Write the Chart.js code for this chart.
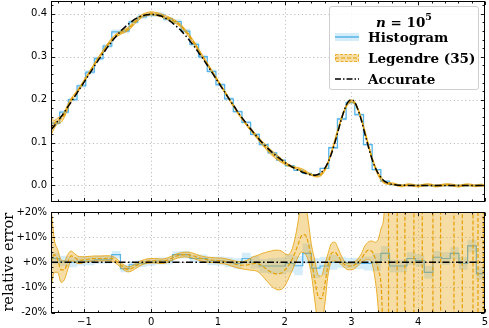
<!DOCTYPE html>
<html><head><meta charset="utf-8">
<script src="https://cdn.jsdelivr.net/npm/chart.js@4.4.1/dist/chart.umd.min.js"></script>
<style>
html,body{margin:0;padding:0;background:#fff;}
#wrap{position:relative;width:489px;height:328px;overflow:hidden;background:#fff;}
#c1{position:absolute;left:0;top:0;}
#c2{position:absolute;left:0;top:206px;}
#legend{position:absolute;left:329px;top:6px;width:150px;height:84px;box-sizing:border-box;border:1px solid #cfcfcf;border-radius:3px;background:rgba(255,255,255,0.85);font-family:'DejaVu Serif',serif;font-weight:bold;font-size:13.5px;color:#000;}
#legend .ttl{position:absolute;left:0;width:100%;top:2px;text-align:center;line-height:18px;}
#legend .ttl sup{font-size:9.5px;position:relative;top:-1px;}
#legend .row{position:absolute;left:5px;height:18px;line-height:18px;white-space:nowrap;}
#legend .row svg{position:absolute;left:0;top:4px;}
#legend .row span{position:absolute;left:33px;top:0;}
</style></head>
<body>
<div id="wrap">
<canvas id="c1" width="489" height="205"></canvas>
<canvas id="c2" width="489" height="122"></canvas>
<div id="legend">
  <div class="ttl"><i>n</i> = 10<sup>5</sup></div>
  <div class="row" style="top:21px"><svg width="24" height="10"><rect x="0" y="1" width="24" height="8" fill="rgba(86,180,233,0.25)"/><line x1="0" y1="5" x2="24" y2="5" stroke="#56B4E9" stroke-width="1.5"/></svg><span>Histogram</span></div>
  <div class="row" style="top:42px"><svg width="24" height="10"><rect x="0.5" y="1.5" width="23" height="7" fill="rgba(230,159,0,0.35)" stroke="#E69F00" stroke-width="0.8" stroke-dasharray="3 1.5"/><line x1="0" y1="5" x2="24" y2="5" stroke="#E69F00" stroke-width="1.2" stroke-dasharray="4 2"/></svg><span>Legendre (35)</span></div>
  <div class="row" style="top:63px"><svg width="24" height="10"><line x1="0" y1="5" x2="24" y2="5" stroke="#000" stroke-width="1.5" stroke-dasharray="6 2 1.5 2"/></svg><span>Accurate</span></div>
</div>
</div>
<script>
// ---------------- DATA ----------------
const xs = [-1.5,-1.45,-1.4,-1.35,-1.3,-1.25,-1.2,-1.15,-1.1,-1.05,-1,-0.95,-0.9,-0.85,-0.8,-0.75,-0.7,-0.65,-0.6,-0.55,-0.5,-0.45,-0.4,-0.35,-0.3,-0.25,-0.2,-0.15,-0.1,-0.05,0,0.05,0.1,0.15,0.2,0.25,0.3,0.35,0.4,0.45,0.5,0.55,0.6,0.65,0.7,0.75,0.8,0.85,0.9,0.95,1,1.05,1.1,1.15,1.2,1.25,1.3,1.35,1.4,1.45,1.5,1.55,1.6,1.65,1.7,1.75,1.8,1.85,1.9,1.95,2,2.05,2.1,2.15,2.2,2.25,2.3,2.35,2.4,2.45,2.5,2.55,2.6,2.65,2.7,2.75,2.8,2.85,2.9,2.95,3,3.05,3.1,3.15,3.2,3.25,3.3,3.35,3.4,3.45,3.5,3.55,3.6,3.65,3.7,3.75,3.8,3.85,3.9,3.95,4,4.05,4.1,4.15,4.2,4.25,4.3,4.35,4.4,4.45,4.5,4.55,4.6,4.65,4.7,4.75,4.8,4.85,4.9,4.95,5];

// accurate density
const accurate = [0.130,0.139,0.150,0.160,0.171,0.183,0.194,0.206,0.218,0.230,
 0.242,0.254,0.266,0.278,0.290,0.301,0.312,0.323,0.333,0.343,
 0.352,0.361,0.368,0.375,0.381,0.387,0.391,0.395,0.397,0.398,
 0.399,0.398,0.397,0.395,0.391,0.387,0.381,0.375,0.368,0.361,
 0.352,0.343,0.333,0.323,0.312,0.301,0.290,0.278,0.266,0.254,
 0.242,0.230,0.218,0.206,0.194,0.183,0.171,0.160,0.150,0.139,
 0.130,0.120,0.111,0.102,0.094,0.086,0.079,0.072,0.066,0.060,
 0.054,0.049,0.044,0.040,0.036,0.032,0.029,0.026,0.025,0.024,
 0.026,0.031,0.040,0.054,0.074,0.099,0.127,0.155,0.179,0.195,
 0.200,0.194,0.176,0.151,0.121,0.092,0.065,0.044,0.028,0.017,
 0.0095,0.0052,0.0028,0.0015,0.0008,0.0005,0.0003,0.0002,0.0002,0.0001,
 0.0001,0,0,0,0,0,0,0,0,0,
 0,0,0,0,0,0,0,0,0,0,
 0];

// Legendre (35) relative error [%] (x = -1.5 ... 3.5)
const legRel = [0,3,1,-3,-3,0,2.5,2,1,0.8,
 1,1.2,1.4,1.5,1.5,1.5,1.5,1.6,1.5,1.0,
 0,-1.2,-2.2,-2.8,-2.6,-1.8,-1.0,-0.3,0.2,0.5,
 0.6,0.6,0.5,0.4,0.5,0.9,1.5,2.1,2.6,2.9,
 3.0,3.0,2.8,2.4,1.9,1.5,1.2,1.0,0.9,0.8,
 0.7,0.6,0.4,0.1,-0.3,-0.7,-1.0,-1.2,-1.2,-1.0,
 -0.7,-0.5,-0.6,-1.2,-2.2,-3.2,-4.0,-4.5,-4.6,-4.3,
 -3.2,-1.5,0.5,3.5,7,10.5,11,8,1,-7,
 -13.5,-14.5,-9,-1,3.5,4,2.5,0.5,-1,-1.5,
 -1.5,-1,0,1.5,3.5,4.8,4.5,2,-3,-12,
 -60];
// Legendre band, relative [%] lower / upper (x = -1.5 ... 5)
const legLo = [-10,-4,-4,-8,-7,-3,0.5,0.3,-0.5,-0.5,
 0,0.2,0.4,0.5,0.5,0.5,0.5,0.6,0.5,0,
 -1,-2.2,-3.2,-3.8,-3.6,-2.8,-2.0,-1.2,-0.7,-0.4,
 -0.3,-0.3,-0.4,-0.5,-0.4,0,0.6,1.2,1.7,2.0,
 2.1,2.0,1.8,1.4,0.9,0.5,0.2,0,-0.1,-0.2,
 -0.3,-0.5,-0.7,-1.0,-1.5,-1.9,-2.3,-2.6,-2.8,-3.0,
 -3.2,-3.3,-3.8,-5.0,-6.5,-8.0,-9.5,-10.5,-11.0,-10.8,
 -9.5,-7.0,-4.0,-1.0,2,4,3.5,1,-5,-15,
 -24,-25,-17,-5,0,0.5,0,-1,-2.2,-3,
 -3,-2.5,-1.2,0,0.8,1,0,-6,-18,-40,
 -80,-300,-1000,-1000,-1000,-1000,-1000,-1000,-1000,-1000,
 -1000,-1000,-1000,-1000,-1000,-1000,-1000,-1000,-1000,-1000,
 -1000,-1000,-1000,-1000,-1000,-1000,-1000,-1000,-1000,-1000,
 -1000];
const legHi = [22,9,5,1,0.5,3,4.5,3.5,2.5,2.2,
 2.2,2.3,2.4,2.5,2.5,2.5,2.6,2.6,2.5,2.0,
 1,-0.2,-1.2,-1.8,-1.6,-0.8,0,0.6,1.1,1.4,
 1.5,1.5,1.4,1.3,1.4,1.8,2.4,3.0,3.5,3.8,
 4.0,4.0,3.8,3.4,2.9,2.5,2.2,2.0,1.9,1.8,
 1.7,1.7,1.5,1.2,0.9,0.5,0.3,0.2,0.4,1.0,
 1.8,2.4,2.8,3.4,3.8,4.2,4.5,4.8,4.8,4.5,
 3.5,3.0,4.5,9,16,24,24,17,7,1,
 -5,-5.5,-1,3.5,7.5,8,5.5,2.5,0.2,-0.3,
 -0.2,0.3,1.5,3.5,6.5,8,8.5,8,9,14,
 26,200,1000,1000,1000,1000,1000,1000,1000,1000,
 1000,1000,1000,1000,1000,1000,1000,1000,1000,1000,
 1000,1000,1000,1000,1000,1000,1000,1000,1000,1000,
 1000];
// Legendre estimate in the far tail (density), x = 3.5 ... 5
const legTail = [0.0065,0.0047,0.0043,0.0027,0.0003,-0.0010,0.0003,0.0017,0.0012,-0.0004,
 -0.0014,-0.0002,0.0013,0.0019,0.0007,-0.0011,-0.0008,0.0005,0.0016,0.0019,
 0.0011,-0.0003,-0.0015,-0.0003,0.0012,0.0016,0.0005,-0.0009,0.0001,0.0010,
 -0.0011];
const legTailW = 0.0022;
// where the Legendre relative error sweeps through the whole window (x)
const legCross = [3.555,3.685,3.8,3.935,4.06,4.22,4.335,4.535,4.66,4.82,4.895,4.975];

// Histogram
const histEdges = [-1.5,-1.37,-1.24,-1.11,-0.98,-0.85,-0.72,-0.59,-0.46,-0.33,-0.2,-0.07,0.06,0.19,0.32,0.45,0.58,0.71,0.84,0.97,1.1,1.23,1.36,1.49,1.62,1.75,1.88,2.01,2.14,2.27,2.4,2.53,2.66,2.79,2.92,3.05,3.18,3.31,3.44,3.57,3.7,3.83,3.96,4.09,4.22,4.35,4.48,4.61,4.74,4.87,5];
const histVals = [0.145,0.171,0.200,0.232,0.264,0.296,0.325,0.358,0.360,0.381,
 0.393,0.398,0.398,0.388,0.382,0.360,0.329,0.300,0.266,0.235,
 0.202,0.172,0.147,0.119,0.095,0.076,0.059,0.046,0.035,0.028,
 0.024,0.040,0.088,0.155,0.193,0.165,0.095,0.037,0.010,0.002,
 0.0004,0.0002,0.0001,0,0,0,0,0,0,0];
const histRel = [1.5,0.5,0,0.5,0.5,1,1,3,-2.5,-1,
 -0.5,0,0.5,0.5,3,3,1.5,1.5,0.5,0.5,
 0,-0.5,1.5,0,-1.5,-1.5,-1.5,-0.5,-1.4,3.5,
 -2.3,-1.5,0,0,-0.3,-0.5,-0.5,0,3.5,-1.5,
 -1.5,1.5,0.7,-4,2,1.5,3.5,-0.5,6.5,-4.5];
const histErr = [2.3,2.1,2.0,1.8,1.7,1.6,1.5,1.5,1.5,1.4,
 1.4,1.4,1.4,1.4,1.4,1.5,1.5,1.6,1.7,1.8,
 2.0,2.1,2.3,2.5,2.8,3.2,3.4,3.6,3.8,4.0,
 4.0,3.6,3.0,2.2,2.0,2.2,2.8,3.6,3,2.5,
 2.5,2.5,2.5,2.5,2.5,2.5,2.5,2.5,2.5,2.5];

// tick steps
const xTickStep = 1, topYTickStep = 0.1, relYTickStep = 10;

// ---------------- helpers ----------------
const BLUE = '#56B4E9', ORANGE = '#E69F00';
const BLUE_FILL = 'rgba(86,180,233,0.25)', ORANGE_FILL = 'rgba(230,159,0,0.35)';
const nTail = legTail.length, nMain = xs.length - nTail;

// histogram as a step path: bin k spans histEdges[k]..histEdges[k+1]
function steps(vals){ const d = [{x:histEdges[0], y:vals[0]}]; vals.forEach((v,k)=>d.push({x:histEdges[k+1], y:v})); return d; }

const decoPlugin = {
  id:'deco',
  beforeDatasetsDraw(chart, args, o){
    const {ctx, chartArea:a, scales:{x,y}} = chart;
    ctx.save(); ctx.strokeStyle='#b0b0b0'; ctx.lineWidth=0.8; ctx.setLineDash([1.2,2.6]);
    ctx.beginPath();
    x.ticks.forEach(t=>{const p=Math.round(x.getPixelForValue(t.value))+0.5; if(p>a.left+1&&p<a.right-1){ctx.moveTo(p,a.top);ctx.lineTo(p,a.bottom);}});
    y.ticks.forEach(t=>{const p=Math.round(y.getPixelForValue(t.value))+0.5; if(p>a.top+1&&p<a.bottom-1){ctx.moveTo(a.left,p);ctx.lineTo(a.right,p);}});
    ctx.stroke(); ctx.restore();
  },
  afterDatasetsDraw(chart, args, o){
    const {ctx, chartArea:a, scales:{x,y}} = chart;
    ctx.save(); ctx.strokeStyle='#000'; ctx.lineWidth=0.9; ctx.setLineDash([]);
    const L=Math.round(a.left)+0.5, R=Math.round(a.right)-0.5, T=Math.round(a.top)+0.5, B=Math.round(a.bottom)-0.5;
    ctx.beginPath();
    const marks=(scale, major, minor, cb)=>{
      const k0=Math.ceil(scale.min/minor-1e-6), k1=Math.floor(scale.max/minor+1e-6);
      for(let k=k0;k<=k1;k++){ const v=k*minor; const r=v/major; const isMaj=Math.abs(r-Math.round(r))<1e-6; cb(Math.round(scale.getPixelForValue(v))+0.5, isMaj?3.5:2); }
    };
    marks(x, o.xMajor, o.xMinor, (p,l)=>{ctx.moveTo(p,B);ctx.lineTo(p,B-l);ctx.moveTo(p,T);ctx.lineTo(p,T+l);});
    marks(y, o.yMajor, o.yMinor, (p,l)=>{ctx.moveTo(L,p);ctx.lineTo(L+l,p);ctx.moveTo(R,p);ctx.lineTo(R-l,p);});
    ctx.stroke();
    ctx.lineWidth=1; ctx.strokeRect(L,T,R-L,B-T);
    ctx.restore();
  }
};

const tickFont = {family:'DejaVu Sans', size:10};
const minusFmt = v => (v<0 ? '\u2212'+Math.abs(v) : String(v));
const noPadV = s => { s.paddingTop = 0; s.paddingBottom = 0; };
const noPadH = s => { s.paddingLeft = 0; s.paddingRight = 0; };

// ---------------- TOP PANEL ----------------
const legEstTop = xs.map((x,i)=>({x, y: i<nMain ? accurate[i]*(1+legRel[i]/100) : legTail[i-nMain]}));
const legLoTop = xs.map((x,i)=>({x, y: i<nMain ? accurate[i]*(1+legLo[i]/100) : legTail[i-nMain]-legTailW}));
const legHiTop = xs.map((x,i)=>({x, y: i<nMain ? accurate[i]*(1+legHi[i]/100) : legTail[i-nMain]+legTailW}));

new Chart(document.getElementById('c1'), {
  type:'line',
  data:{datasets:[
    {data:steps(histVals.map((v,k)=>v*(1-histErr[k]/100))), stepped:'after', borderWidth:0, pointRadius:0, fill:false, order:6},
    {data:steps(histVals.map((v,k)=>v*(1+histErr[k]/100))), stepped:'after', borderWidth:0, pointRadius:0, fill:'-1', backgroundColor:BLUE_FILL, order:5},
    {data:steps(histVals), stepped:'after', borderColor:BLUE, borderWidth:1.3, pointRadius:0, fill:false, order:4},
    {data:legLoTop, borderColor:ORANGE, borderWidth:0.8, pointRadius:0, fill:false, cubicInterpolationMode:'monotone', order:3},
    {data:legHiTop, borderColor:ORANGE, borderWidth:0.8, pointRadius:0, fill:'-1', backgroundColor:ORANGE_FILL, cubicInterpolationMode:'monotone', order:2},
    {data:legEstTop, borderColor:ORANGE, borderWidth:1.3, borderDash:[4,2], pointRadius:0, fill:false, cubicInterpolationMode:'monotone', order:1},
    {data:xs.map((x,i)=>({x, y:accurate[i]})), borderColor:'#000', borderWidth:1.5, borderDash:[7,2.5,1.5,2.5], pointRadius:0, fill:false, cubicInterpolationMode:'monotone', order:0}
  ]},
  options:{
    responsive:false, animation:false, devicePixelRatio:1,
    layout:{padding:{left:0,right:4,top:1,bottom:0}},
    plugins:{legend:{display:false}, tooltip:{enabled:false}, deco:{xMajor:1,xMinor:0.2,yMajor:0.1,yMinor:0.02}},
    scales:{
      x:{type:'linear', min:-1.5, max:5, grid:{display:false, drawTicks:false}, border:{display:false},
         ticks:{display:false, stepSize:xTickStep, includeBounds:false}, afterFit:s=>{s.height=3; noPadH(s);}},
      y:{type:'linear', min:-0.0385, max:0.430, grid:{display:false, drawTicks:false}, border:{display:false},
         ticks:{stepSize:topYTickStep, includeBounds:false, font:tickFont, color:'#000', padding:4, callback:v=>Number(v).toFixed(1)},
         afterFit:s=>{s.width=51; noPadV(s);}}
    }
  },
  plugins:[decoPlugin]
});

// ---------------- BOTTOM PANEL (relative error, %) ----------------
const legRelPts = legRel.map((v,i)=>({x:xs[i], y:v}));
const legTailPts = [{x:xs[legRel.length-1], y:legRel[legRel.length-1]}];
legCross.forEach((c,j)=>{ const up = (j%2===0); legTailPts.push({x:c, y: up?-1000:1000}); legTailPts.push({x:c, y: up?1000:-1000}); });
legTailPts.push({x:5, y: legTailPts[legTailPts.length-1].y});

new Chart(document.getElementById('c2'), {
  type:'line',
  data:{datasets:[
    {data:steps(histRel.map((v,k)=>v-histErr[k])), stepped:'after', borderWidth:0, pointRadius:0, fill:false, order:8},
    {data:steps(histRel.map((v,k)=>v+histErr[k])), stepped:'after', borderWidth:0, pointRadius:0, fill:'-1', backgroundColor:BLUE_FILL, order:7},
    {data:steps(histRel), stepped:'after', borderColor:BLUE, borderWidth:1.2, pointRadius:0, fill:false, order:6},
    {data:legLo.map((v,i)=>({x:xs[i], y:v})), borderColor:ORANGE, borderWidth:0.8, pointRadius:0, fill:false, cubicInterpolationMode:'monotone', order:5},
    {data:legHi.map((v,i)=>({x:xs[i], y:v})), borderColor:ORANGE, borderWidth:0.8, pointRadius:0, fill:'-1', backgroundColor:ORANGE_FILL, cubicInterpolationMode:'monotone', order:4},
    {data:legRelPts, borderColor:ORANGE, borderWidth:1.2, borderDash:[4,2], pointRadius:0, fill:false, cubicInterpolationMode:'monotone', order:3},
    {data:legTailPts, borderColor:ORANGE, borderWidth:1.2, borderDash:[4,2], pointRadius:0, fill:false, tension:0, order:2},
    {data:xs.map(x=>({x, y:0})), borderColor:'#000', borderWidth:1.5, borderDash:[7,2.5,1.5,2.5], pointRadius:0, fill:false, order:0}
  ]},
  options:{
    responsive:false, animation:false, devicePixelRatio:1,
    layout:{padding:{left:0,right:4,top:6,bottom:0}},
    plugins:{legend:{display:false}, tooltip:{enabled:false}, deco:{xMajor:1,xMinor:0.2,yMajor:10,yMinor:2}},
    scales:{
      x:{type:'linear', min:-1.5, max:5, grid:{display:false, drawTicks:false}, border:{display:false},
         ticks:{stepSize:xTickStep, includeBounds:false, font:tickFont, color:'#000', padding:4, maxRotation:0, autoSkip:false, callback:minusFmt},
         afterFit:s=>{s.height=15.5; noPadH(s);}},
      y:{type:'linear', min:-20, max:20, grid:{display:false, drawTicks:false}, border:{display:false},
         ticks:{stepSize:relYTickStep, includeBounds:false, font:tickFont, color:'#000', padding:4, callback:v=>(v>=0?'+':'-')+Math.abs(v)+'%'},
         title:{display:true, text:'relative error', font:{family:'DejaVu Serif', size:14.5}, color:'#000', padding:{top:1,bottom:0}},
         afterFit:s=>{s.width=51; noPadV(s);}}
    }
  },
  plugins:[decoPlugin]
});
</script>
</body></html>
